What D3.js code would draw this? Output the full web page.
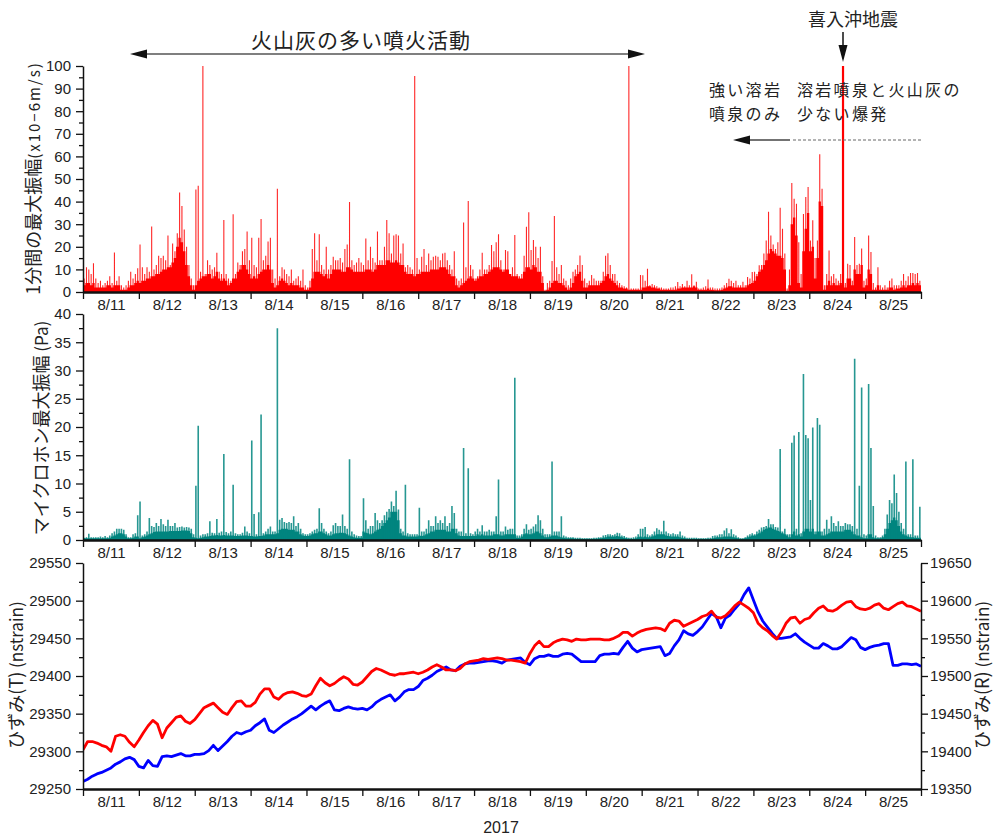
<!DOCTYPE html>
<html>
<head>
<meta charset="utf-8">
<script src="https://cdn.jsdelivr.net/npm/d3@7"></script>
<style>
  body { margin: 0; background: #fff; }
  svg { display: block; }
  .tick text { font-family: "Liberation Sans", Arial, sans-serif; font-size: 15px; fill: #222; }
  .tick line { stroke: #111; stroke-width: 1.3; }
  .jp { font-family: "Noto Sans CJK JP", sans-serif; fill: #222; }
</style>
</head>
<body>
<svg id="chart" width="996" height="837"></svg>
<script>
// Day labels, 2017-08-11 .. 2017-08-25 (time is in hours from 8/11 00:00)
const dayLabels = ["8/11","8/12","8/13","8/14","8/15","8/16","8/17","8/18","8/19","8/20","8/21","8/22","8/23","8/24","8/25"];

// Seismic: hourly maximum 1-minute amplitude (x10^-6 m/s), one row per day
const seisPeak = [
  6,11,10,8,12.7,6,4,5,3,4,5,7,4,17.5,5,7,3,2,3,5,9,6,8,10.5,
  21,11,8,11,9,29,10,12,16,15,16,14,25,12,21.5,18,26,44,38,27.7,20,12,6,3,
  45.4,47,9,100,8,14,12,10,11,17.4,9,8,31.9,8,6,5,34.4,8,13,12,18,19,26.8,14,
  24,12,11,24,32.3,14,16,22.4,24,10,6,45.7,7,11,10,8,7,10,5,6,7,5,10,3,
  2,5,19,26,14,25.5,12,10,20,10,12,15.6,14,14,15,13,19,21,39.8,14,12,13,15,13,
  12,23.7,14,20,15,13,26.8,14,14,20,31.9,26,17,25,25.5,25,17,21.5,11,12,11,10,95.6,15,
  10,15.6,19,12,17,14,15.6,16,15.6,14,17,17.4,14,12,10,18,6,5,6,30.7,11,40.3,12,10,
  6,7,10,17.4,10,10,12,20.8,18,22,25.5,14,10,18.6,18,7,11,25.2,8,7,8,16,28.9,35.3,
  18.6,23,20,15,20,7,1,4,5,13.7,33.6,11,8,12,6,5,3,6,9,10,12,16.2,12,6,
  4,5,7.5,6,5,5,5,9,16,17.1,12,8,8,5,4,3,2.5,2,100,1.5,1.5,1.5,1.5,7.5,
  7.4,5,10.3,3,3.5,3,2.5,2,2,1.5,1.5,1.5,2,2,2.5,4.4,2.5,3.5,2.5,5,3,7.8,3,4.5,
  1.5,1.5,2,2.5,5.5,2,2,1.5,1.5,1.5,2,3,4,5.9,5,4,5,3,3,4.5,3,6.6,6,8.8,
  9,8,11.8,12,17,22.8,35.5,25,21,19,22,37.3,28,17,1.5,10,48.2,41.3,39,22,8,34.5,42,46.5,
  22.8,31.7,15,22.8,61,45.7,3,8,18.4,7,8,6,5,8,100,4,12.5,12,5,24.3,12,12.5,19.2,5,
  6,25,17.7,4,2,11,3,2,3,2,5,6,3,3,3,5,8,5,7,8.4,8.4,8,8.4,5
];
// Seismic: hourly typical (background) level
const seisBase = [
  3,4,4,3,4,2,2,2,2,2,3,3,2,3,3,3,1,1,1,2,3,3,4,5,
  4,5,5,6,6,7,7,8,8,9,10,10,11,11,13,15,20,24,22,18,12,7,3,1,
  3,5,6,7,7,8,8,6,7,9,6,5,6,5,3,4,6,6,9,10,12,12,10,8,
  6,7,6,8,9,10,10,12,10,4,2,3,5,6,5,4,3,4,3,3,3,2,2,1,
  1,2,6,9,9,9,8,7,8,6,8,10,10,10,10,9,9,11,11,10,9,9,9,9,
  9,10,10,10,9,10,12,12,12,12,14,14,13,13,14,13,12,12,9,8,8,8,7,8,
  8,9,9,9,9,10,10,10,10,11,11,11,10,8,7,7,3,2,3,4,5,6,7,6,
  5,6,7,7,8,8,9,10,11,11,11,10,9,10,10,8,7,7,7,6,6,9,11,11,
  10,12,11,9,9,4,0.5,1,2,4,5,5,4,4,3,2,1,2,4,7,8,9,5,2,
  2,3,3,3,3,3,4,5,7,8,6,5,4,3,2,2,1.5,1.5,1,1,1,1,1,1,
  2,2,2.5,2.5,2,2,1.5,1.5,1,1,1,1,1,1,1,1.5,1.5,2,2,2,2,2,2.5,2,
  1,1,1,1,1.5,1,1,0.8,0.8,0.8,1,1.5,2,2.5,2.5,2,2,2,2,2,2,3,3.5,4,
  5,7,9,10,12,14,17,19,18,17,16,16,15,10,0.5,3,30,33,25,4,2,18,28,35,
  18,20,6,15,40,38,1,3,5,3,4,3,3,4,3,2,6,6,3,10,8,8,12,2,
  3,10,8,1,1,3,1,1,1,1,2,2,1,1.5,1.5,2,3,2,3,3,4,3,4,3
];
// Hour index of the Kiire-oki earthquake record
const quakeHour = 326;

// Microphone: hourly maximum amplitude (Pa)
const micPeak = [
  0.4,0.5,1.1,0.5,0.5,0.5,0.5,0.6,0.5,0.7,0.5,0.8,1.2,1.5,2,2,2,1.8,1,0.5,0.5,1,1.2,4.4,
  6.8,0.8,1,1.5,3.9,2.5,2.3,3,2.5,3.7,2.8,2.5,3.6,2.5,2.5,3,2.2,2.3,2.4,2.2,2.3,2.2,2,1,
  9.6,20.2,0.8,1,1,1.2,3.3,1.3,1.2,3.7,1.3,1.5,15.2,1.4,1.2,1.5,9.8,1.2,1,1,1.3,2.4,1.5,1.2,
  17.6,4.6,1,4.9,22.2,1.2,1.5,2,2.4,1.5,1.5,37.5,3.6,3.9,3.2,3,3.2,3,4.2,2.5,3,2,1.2,1,
  1,1.2,1.5,1.8,2,5.6,3,2,1.5,1.2,1.5,2.6,3,2.5,2.5,4.5,2.5,2,14.3,1.5,1,0.8,0.7,0.7,
  7.4,3.5,2,2.5,2.5,4.8,3.5,3,3.5,4.4,5,5.5,6.8,6,8.7,5.4,2,1.5,9.8,1.2,1,1,1,1,
  5.7,1.5,1.5,2,3.5,2.5,2.5,4.2,3,3.5,3,4.2,2.5,3,6,4.8,2,1.5,1.5,16.3,1.2,12.7,1.2,1,
  1.5,2,1.5,2.6,1.5,1.5,1.8,1.5,1.5,4.2,10.7,1.5,1.5,2.4,1.8,2,2,28.7,0.8,0.8,1,2,2.8,1.8,
  2,2.4,2.8,4.4,3.5,2,1,1,1,13.9,1.5,1.5,1.5,4.2,0.8,0.6,0.5,0.5,0.5,0.4,0.4,0.4,0.3,0.3,
  0.3,0.3,0.3,0.4,0.4,0.5,0.5,0.8,0.9,1,1,0.9,1,1.3,1.2,0.8,0.7,0.5,0.4,0.4,0.5,0.6,1,2,
  2,2.3,1,0.8,1,1.5,2.1,1.8,1.5,3.4,1.5,1.2,1,1.2,1,1,1.5,0.8,0.6,0.4,0.4,0.4,0.4,0.4,
  0.3,0.3,0.3,0.3,0.4,0.4,0.7,0.8,0.8,1,1,1.7,2.1,1.2,1.9,1,0.8,0.5,0.3,0.3,0.5,0.8,1,1.2,
  1,1.5,1.8,2.2,2.3,2.5,3.7,2.8,2.8,2.3,2.2,16.1,1.5,2,1,1,17.2,18.5,2,19.1,1.2,29.4,18.6,18,
  7.1,19.9,1.5,21.6,20.4,1.5,2,3.6,2,4.2,3,2.5,3.3,2.5,2.5,3,2.8,2.8,2.5,32.1,2,9.6,27,1,
  0.8,27.6,16.3,6,0.8,0.5,0.5,0.8,2,4.5,7.1,6.5,11.6,8.3,5,3,2,13.9,1,1,14.3,0.8,0.8,5.9
];
// Microphone: hourly background level (Pa)
const micBase = [
  0.3,0.3,0.3,0.3,0.3,0.3,0.3,0.3,0.3,0.3,0.3,0.4,0.6,0.8,1,1.2,1.2,1,0.6,0.3,0.3,0.4,0.6,0.6,
  0.3,0.5,0.6,0.8,1,1.2,1.4,1.5,1.5,1.5,1.5,1.5,1.5,1.6,1.6,1.6,1.6,1.6,1.7,1.7,1.7,1.6,1.2,0.5,
  0.4,0.3,0.4,0.5,0.6,0.6,0.7,0.8,0.8,0.9,0.8,0.8,0.9,0.8,0.8,0.8,0.8,0.7,0.7,0.7,0.8,0.8,0.8,0.7,
  0.7,0.6,0.6,0.7,0.7,0.8,1,1,1,1,1,1.2,1.8,2,2,2,1.8,1.8,1.8,1.5,1.5,1,0.8,0.7,
  0.7,0.8,1,1.2,1.2,1.5,1.5,1.2,1,0.8,0.8,1,1.2,1.2,1.3,1.3,1.2,1,0.8,0.6,0.5,0.4,0.4,0.4,
  1.5,1.3,1.2,1,1.2,1.5,1.8,2,2.5,3,3.5,4,5,5,5,3.5,1.2,0.8,0.8,0.6,0.6,0.6,0.6,0.6,
  0.8,0.7,0.8,1,1.2,1.5,1.5,1.8,1.8,1.8,1.8,1.8,1.5,1.5,2,2,1.2,0.8,0.7,0.7,0.7,0.7,0.7,0.7,
  0.7,1,0.8,1,0.8,0.8,0.8,0.8,1,1,1,0.8,0.8,1,1,1,1,1,0.4,0.4,0.6,1,1.2,1,
  1,1.2,1.5,1.5,1.2,0.8,0.5,0.5,0.6,0.8,0.8,0.8,0.6,0.5,0.4,0.3,0.3,0.3,0.3,0.2,0.2,0.2,0.2,0.2,
  0.2,0.2,0.2,0.2,0.2,0.3,0.3,0.4,0.5,0.6,0.6,0.6,0.6,0.7,0.6,0.5,0.4,0.3,0.2,0.2,0.2,0.3,0.5,0.6,
  0.5,0.6,0.5,0.5,0.6,0.8,1,1,1,1,0.8,0.7,0.6,0.6,0.6,0.6,0.5,0.4,0.3,0.2,0.2,0.2,0.2,0.2,
  0.2,0.2,0.2,0.2,0.2,0.2,0.3,0.4,0.5,0.5,0.5,0.6,0.6,0.6,0.6,0.5,0.4,0.3,0.2,0.2,0.3,0.5,0.6,0.8,
  0.8,1,1.2,1.5,1.8,2,2.2,2.2,2,1.8,1.6,1.5,1.2,1,0.8,0.5,1,1.5,0.8,1,0.6,1.5,2,2,
  1.5,2,1,1.5,1.5,0.8,0.8,1,1.2,1.5,1.5,1.5,1.5,1.5,1.5,1.8,1.8,1.8,1.5,1,0.8,0.8,0.5,0.3,
  0.3,1,1,0.5,0.3,0.3,0.3,0.5,1,2,3,3.5,4,3.5,2.5,1.5,1,0.8,0.6,0.5,0.5,0.4,0.4,0.4
];

// Strain, every 2 hours (nstrain); T on the left axis, R on the right axis
const strainT = [
  29302,29313,29313,29311,29308,29306,29300,29320,29322,29320,29312,29306,
  29315,29325,29334,29341,29336,29318,29331,29338,29345,29347,29340,29337,
  29342,29350,29358,29361,29364,29358,29352,29349,29358,29366,29367,29360,
  29360,29365,29376,29383,29383,29372,29369,29375,29378,29379,29377,29374,
  29373,29376,29387,29397,29391,29387,29390,29395,29399,29396,29389,29388,
  29392,29399,29406,29410,29408,29405,29402,29401,29403,29403,29404,29405,
  29403,29405,29408,29412,29415,29412,29408,29408,29407,29410,29416,29419,
  29420,29421,29423,29422,29423,29424,29423,29421,29421,29420,29419,29417,
  29430,29440,29446,29439,29439,29444,29447,29449,29448,29446,29449,29448,
  29448,29449,29449,29449,29448,29448,29450,29453,29458,29458,29453,29457,
  29460,29462,29463,29464,29463,29460,29470,29474,29473,29466,29469,29472,
  29475,29479,29481,29486,29478,29477,29480,29486,29493,29498,29494,29490,
  29484,29470,29464,29460,29454,29449,29458,29470,29477,29478,29470,29475,
  29477,29484,29490,29493,29487,29486,29489,29494,29498,29499,29492,29489,
  29488,29490,29494,29496,29490,29488,29492,29496,29498,29493,29492,29489,
  29486
];
const strainR = [
  19360,19363,19367,19370,19372,19375,19378,19383,19386,19390,19392,19389,
  19380,19378,19388,19381,19380,19393,19394,19393,19395,19397,19394,19394,
  19396,19396,19397,19401,19408,19401,19407,19413,19420,19425,19423,19426,
  19428,19434,19438,19443,19428,19425,19430,19435,19439,19443,19446,19450,
  19455,19460,19455,19460,19464,19467,19455,19454,19457,19459,19457,19456,
  19457,19455,19459,19465,19469,19472,19475,19467,19472,19479,19482,19482,
  19486,19494,19497,19501,19506,19509,19512,19508,19507,19513,19516,19517,
  19517,19518,19519,19520,19520,19519,19517,19521,19522,19523,19524,19518,
  19515,19523,19526,19526,19528,19526,19526,19529,19530,19529,19524,19519,
  19519,19519,19519,19527,19529,19529,19530,19529,19538,19546,19537,19532,
  19535,19536,19537,19538,19539,19527,19530,19540,19548,19560,19556,19554,
  19559,19565,19574,19583,19579,19564,19577,19581,19589,19596,19608,19617,
  19601,19585,19573,19565,19557,19550,19550,19551,19552,19556,19550,19545,
  19541,19537,19537,19543,19540,19536,19536,19539,19545,19551,19548,19538,
  19535,19538,19540,19541,19543,19543,19514,19514,19516,19516,19515,19516,
  19513
];

const seisTicks = d3.range(0, 101, 10);
const micTicks = d3.range(0, 41, 5);
const strainTTicks = d3.range(29250, 29551, 50);
const strainRTicks = d3.range(19350, 19651, 50);

const svg = d3.select("#chart");

// Shared time axis in hours from 8/11 00:00
const x = d3.scaleLinear().domain([0, 360]).range([83, 921]);
const ySeis = d3.scaleLinear().domain([0, 100]).range([292, 66]);
const yMic = d3.scaleLinear().domain([0, 40]).range([540, 314]);
const yT = d3.scaleLinear().domain([29250, 29550]).range([789, 563]);
const yR = d3.scaleLinear().domain([19350, 19650]).range([789, 563]);
const plain = d3.format("d");

// Filled hourly background plus a thin spike per hour for the maximum
function drawBars(base, peak, y, color, spikeWidth, thickIndex) {
  const g = svg.append("g");
  const area = d3.area()
    .x((d, i) => x(i))
    .y0(y(0))
    .y1(d => y(d))
    .curve(d3.curveStepAfter);
  g.append("path")
    .datum(base.concat([base[base.length - 1]]))
    .attr("d", area)
    .attr("fill", color);
  const spikes = peak.map((v, i) => `M${x(i + 0.5)},${y(0)}V${y(v)}`).join("");
  g.append("path")
    .attr("d", spikes)
    .attr("stroke", color)
    .attr("stroke-width", spikeWidth)
    .attr("stroke-opacity", 0.85)
    .attr("fill", "none");
  if (thickIndex != null) {
    g.append("path")
      .attr("d", `M${x(thickIndex + 0.5)},${y(0)}V${y(peak[thickIndex])}`)
      .attr("stroke", color)
      .attr("stroke-width", 2.2)
      .attr("fill", "none");
  }
}

function dayAxis(yPos) {
  const g = svg.append("g").attr("transform", `translate(0,${yPos})`);
  g.call(d3.axisBottom(x).tickValues(d3.range(0, 361, 24)).tickFormat("").tickSize(7).tickSizeOuter(0));
  g.select(".domain").attr("stroke", "#111").attr("stroke-width", 2.4);
  const lab = svg.append("g").attr("transform", `translate(0,${yPos})`);
  lab.call(d3.axisBottom(x).tickValues(d3.range(12, 360, 24)).tickSize(0).tickPadding(7)
    .tickFormat((d, i) => dayLabels[i]));
  lab.select(".domain").remove();
}

function leftAxis(y, ticks, minor, xPos) {
  const g = svg.append("g").attr("transform", `translate(${xPos},0)`);
  g.call(d3.axisLeft(y).tickValues(ticks).tickFormat(plain).tickSize(7).tickPadding(5).tickSizeOuter(0));
  g.select(".domain").attr("stroke", "#111").attr("stroke-width", 1.5);
  const m = svg.append("g").attr("transform", `translate(${xPos},0)`);
  m.call(d3.axisLeft(y).tickValues(minor).tickSize(4).tickFormat("").tickSizeOuter(0));
  m.select(".domain").remove();
}

function rightAxis(y, ticks, minor, xPos) {
  const g = svg.append("g").attr("transform", `translate(${xPos},0)`);
  g.call(d3.axisRight(y).tickValues(ticks).tickFormat(plain).tickSize(7).tickPadding(2).tickSizeOuter(0));
  g.select(".domain").attr("stroke", "#111").attr("stroke-width", 1.5);
  const m = svg.append("g").attr("transform", `translate(${xPos},0)`);
  m.call(d3.axisRight(y).tickValues(minor).tickSize(4).tickFormat("").tickSizeOuter(0));
  m.select(".domain").remove();
}

function yTitle(cx, cy, main, sub, subSize, subSpacing) {
  const t = svg.append("text")
    .attr("class", "jp")
    .attr("transform", `translate(${cx},${cy}) rotate(-90)`)
    .attr("text-anchor", "middle")
    .attr("dy", "0.36em");
  t.append("tspan").attr("font-size", 18).text(main);
  t.append("tspan").attr("font-size", subSize).attr("letter-spacing", subSpacing).text(sub);
}

// ---- Panel 1: seismic amplitude ----
drawBars(seisBase, seisPeak, ySeis, "#ff0000", 1.1, quakeHour);
leftAxis(ySeis, seisTicks, d3.range(5, 100, 10), 83);
dayAxis(292);
yTitle(34, 178, "1分間の最大振幅", "(x10−6m/s)", 15, 2);

// ---- Panel 2: microphone amplitude ----
drawBars(micBase, micPeak, yMic, "#00857f", 1.6, null);
leftAxis(yMic, micTicks, d3.range(2.5, 40, 5), 83);
dayAxis(540);
yTitle(42, 428, "マイクロホン最大振幅", " (Pa)", 17, 0);

// ---- Panel 3: strain ----
svg.append("clipPath").attr("id", "strainClip")
  .append("rect").attr("x", x(0)).attr("y", yT(29550)).attr("width", x(360) - x(0)).attr("height", yT(29250) - yT(29550));

const lineR = d3.line().x((d, i) => x(i * 2)).y(d => yR(d));
const lineT = d3.line().x((d, i) => x(i * 2)).y(d => yT(d));
const strainG = svg.append("g").attr("clip-path", "url(#strainClip)");
strainG.append("path").datum(strainR).attr("d", lineR)
  .attr("fill", "none").attr("stroke", "#0000ff").attr("stroke-width", 2.8).attr("stroke-linejoin", "round");
strainG.append("path").datum(strainT).attr("d", lineT)
  .attr("fill", "none").attr("stroke", "#ff0000").attr("stroke-width", 2.8).attr("stroke-linejoin", "round");

leftAxis(yT, strainTTicks, d3.range(29275, 29550, 50), 83);
rightAxis(yR, strainRTicks, d3.range(19375, 19650, 50), 921);
dayAxis(789);
yTitle(17, 675, "ひずみ(T)", " (nstrain)", 17, 0);
yTitle(983, 675, "ひずみ(R)", " (nstrain)", 17, 0);

svg.append("text")
  .attr("x", 501).attr("y", 833)
  .attr("text-anchor", "middle")
  .attr("font-family", "\"Liberation Sans\", Arial, sans-serif")
  .attr("font-size", 16).attr("fill", "#222")
  .text("2017");

// ---- Annotations ----
const ann = svg.append("g");
// Ash-rich eruption period (double arrow)
ann.append("line").attr("x1", 140).attr("x2", 636).attr("y1", 54).attr("y2", 54)
  .attr("stroke", "#555").attr("stroke-width", 1.6);
ann.append("path").attr("d", "M130,54L147,49.5L147,58.5Z").attr("fill", "#111");
ann.append("path").attr("d", "M645,54L628,49.5L628,58.5Z").attr("fill", "#111");
ann.append("text").attr("class", "jp").attr("x", 361).attr("y", 48)
  .attr("text-anchor", "middle").attr("font-size", 21).attr("letter-spacing", 1)
  .text("火山灰の多い噴火活動");

// Earthquake marker
ann.append("text").attr("class", "jp").attr("x", 853).attr("y", 26)
  .attr("text-anchor", "middle").attr("font-size", 18).text("喜入沖地震");
ann.append("line").attr("x1", 843).attr("x2", 843).attr("y1", 32).attr("y2", 48)
  .attr("stroke", "#111").attr("stroke-width", 1.5);
ann.append("path").attr("d", "M843,62L838.5,45L847.5,45Z").attr("fill", "#111");

// Lava fountain phases (two-line notes)
function note(xPos, lines) {
  lines.forEach((s, i) => {
    ann.append("text").attr("class", "jp")
      .attr("font-size", 16).attr("letter-spacing", 2.3)
      .attr("x", xPos).attr("y", 96 + i * 23.5).text(s);
  });
}
note(709, ["強い溶岩", "噴泉のみ"]);
note(797, ["溶岩噴泉と火山灰の", "少ない爆発"]);
ann.append("line").attr("x1", 748).attr("x2", 790).attr("y1", 140).attr("y2", 140)
  .attr("stroke", "#444").attr("stroke-width", 1.5);
ann.append("path").attr("d", "M733,140L750,135.5L750,144.5Z").attr("fill", "#111");
ann.append("line").attr("x1", 793).attr("x2", 921).attr("y1", 140).attr("y2", 140)
  .attr("stroke", "#666").attr("stroke-width", 1).attr("stroke-dasharray", "3,2");
</script>
</body>
</html>
